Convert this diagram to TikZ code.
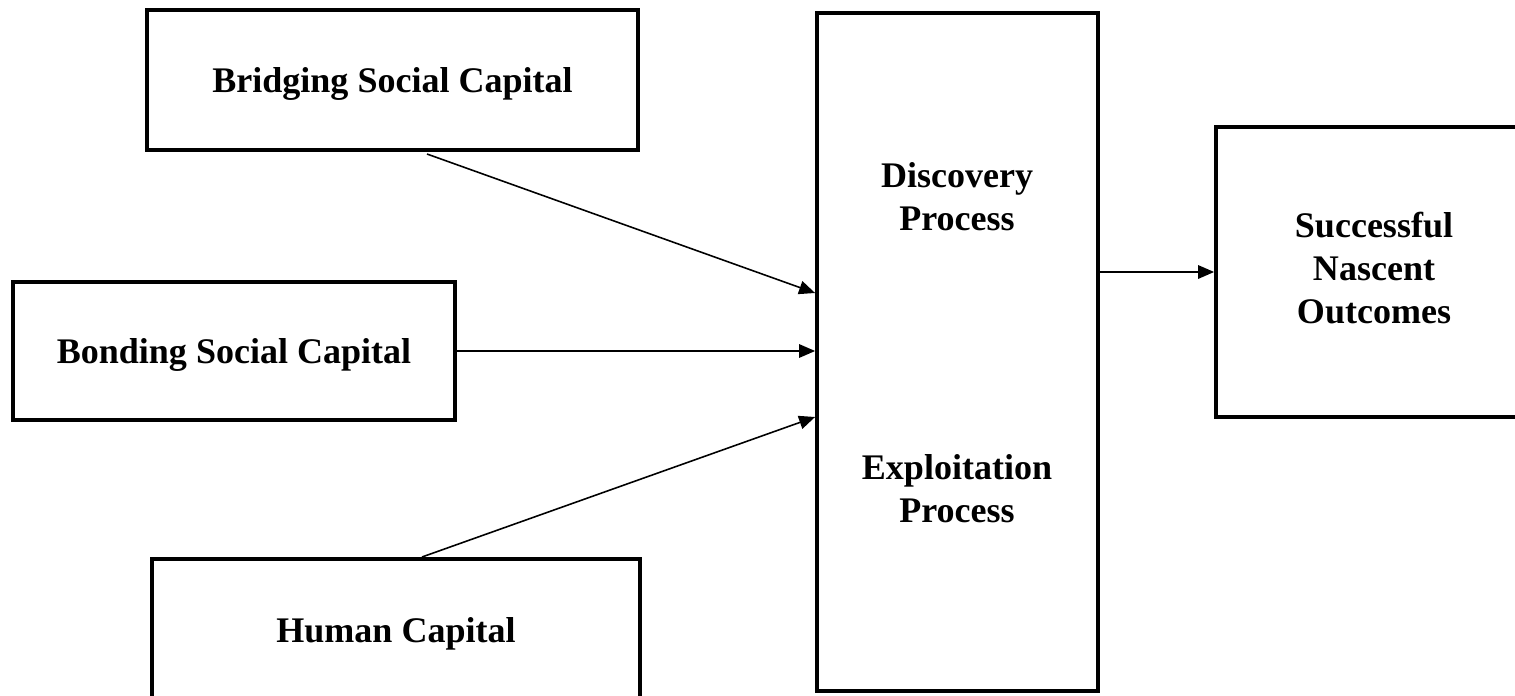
\documentclass[tikz,border=0pt]{standalone}
\usepackage{fontspec}
\setmainfont{Liberation Serif}
\usetikzlibrary{positioning, arrows.meta}

\begin{document}
\begin{tikzpicture}[
    x=0.02cm, y=-0.02cm,
    box/.style={rectangle, draw=black, line width=2.2pt, align=center, inner sep=0pt, font=\fontsize{20.5}{24.4}\selectfont\bfseries},
    capbox/.style={box, text depth=0pt},
    lbl/.style={align=center, inner sep=0pt, font=\fontsize{20.5}{24.4}\selectfont\bfseries},
    arr/.style={-{Triangle[length=0.32cm, width=0.27cm]}, line width=0.9pt},
  ]
    \useasboundingbox (0,0) rectangle (1515,696);

    \node[capbox, minimum width=9.82cm, minimum height=2.8cm] (bridge) at (392.5,80) {Bridging Social Capital};
    \node[capbox, minimum width=8.84cm, minimum height=2.76cm] (bond) at (234,351) {Bonding Social Capital};
    \node[capbox, minimum width=9.76cm, minimum height=2.84cm] (human) at (396,630) {Human Capital};
    \node[box, minimum width=5.62cm, minimum height=13.56cm] (proc) at (957.5,352) {};
    \node[lbl] (disc) at (957,197) {Discovery\\Process};
    \node[lbl] (expl) at (957,489) {Exploitation\\Process};
    \node[box, text depth=4.5pt, minimum width=6.32cm, minimum height=5.8cm] (outc) at (1374,272) {Successful\\Nascent\\Outcomes};

    % arrow end points
    \coordinate (bridgeout) at (427,154);
    \coordinate (humanout) at (422,557);
    \coordinate (in1) at (proc.west |- 0,293);
    \coordinate (in2) at (proc.west |- bond.east);
    \coordinate (in3) at (proc.west |- 0,417);
    \coordinate (procout) at (proc.east |- 0,272);

    \draw[arr] (bridgeout) -- (in1);
    \draw[arr] (bond.east) -- (in2);
    \draw[arr] (humanout) -- (in3);
    \draw[arr] (procout) -- (outc.west |- procout);
\end{tikzpicture}
\end{document}
